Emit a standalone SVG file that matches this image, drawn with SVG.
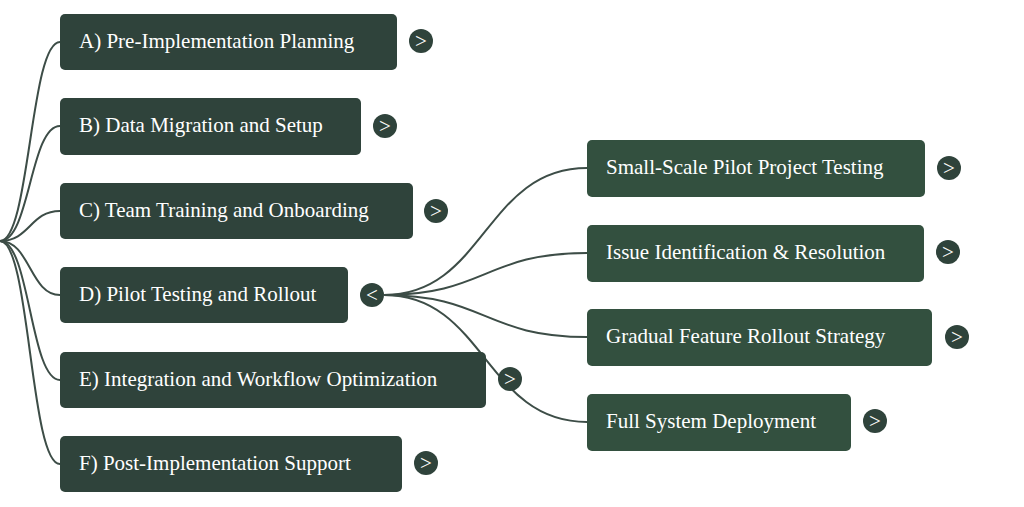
<svg xmlns="http://www.w3.org/2000/svg" width="1024" height="507" viewBox="0 0 1024 507">
<style>
.n{fill:#2f433b}.m{fill:#33503f}.c{fill:#2f433b}
text{font-family:"Liberation Serif",serif;font-size:21px;fill:#fff}
.t{font-size:21px;text-anchor:middle}
.e{fill:none;stroke:#3d4d47;stroke-width:2}
</style>
<rect width="1024" height="507" fill="#fff"/>
<g id="connectors" class="e">
<path d="M0,241 C30,241 30,42 60,42"/>
<path d="M0,241 C30,241 30,126 60,126"/>
<path d="M0,241 C30,241 30,211 60,211"/>
<path d="M0,241 C30,241 30,295 60,295"/>
<path d="M0,241 C30,241 30,380 60,380"/>
<path d="M0,241 C30,241 30,464 60,464"/>
<path d="M384,295 C485,295 485,168 587,168"/>
<path d="M384,295 C485,295 485,253 587,253"/>
<path d="M384,295 C485,295 485,337 587,337"/>
<path d="M384,295 C485,295 485,422 587,422"/>
</g>
<g id="A"><rect class="n" x="60" y="14" width="337" height="56" rx="5"/><text x="79" y="48">A) Pre-Implementation Planning</text><circle class="c" cx="421" cy="41" r="12"/><text class="t" x="421" y="48">&gt;</text></g>
<g id="B"><rect class="n" x="60" y="98" width="301" height="57" rx="5"/><text x="79" y="132">B) Data Migration and Setup</text><circle class="c" cx="385" cy="126" r="12"/><text class="t" x="385" y="133">&gt;</text></g>
<g id="C"><rect class="n" x="60" y="183" width="353" height="56" rx="5"/><text x="79" y="217">C) Team Training and Onboarding</text><circle class="c" cx="436" cy="211" r="12"/><text class="t" x="436" y="218">&gt;</text></g>
<g id="D"><rect class="n" x="60" y="267" width="288" height="56" rx="5"/><text x="79" y="301">D) Pilot Testing and Rollout</text><circle class="c" cx="372" cy="295" r="12"/><text class="t" x="372" y="302">&lt;</text></g>
<g id="E"><rect class="n" x="60" y="352" width="426" height="56" rx="5"/><text x="79" y="386">E) Integration and Workflow Optimization</text><circle class="c" cx="510" cy="379" r="12"/><text class="t" x="510" y="386">&gt;</text></g>
<g id="F"><rect class="n" x="60" y="436" width="342" height="56" rx="5"/><text x="79" y="470">F) Post-Implementation Support</text><circle class="c" cx="426" cy="463" r="12"/><text class="t" x="426" y="470">&gt;</text></g>
<g id="D1"><rect class="m" x="587" y="140" width="338" height="57" rx="5"/><text x="606" y="174">Small-Scale Pilot Project Testing</text><circle class="c" cx="949" cy="168" r="12"/><text class="t" x="949" y="175">&gt;</text></g>
<g id="D2"><rect class="m" x="587" y="225" width="337" height="57" rx="5"/><text x="606" y="259">Issue Identification &amp; Resolution</text><circle class="c" cx="948" cy="252" r="12"/><text class="t" x="948" y="259">&gt;</text></g>
<g id="D3"><rect class="m" x="587" y="309" width="345" height="57" rx="5"/><text x="606" y="343">Gradual Feature Rollout Strategy</text><circle class="c" cx="957" cy="337" r="12"/><text class="t" x="957" y="344">&gt;</text></g>
<g id="D4"><rect class="m" x="587" y="394" width="264" height="57" rx="5"/><text x="606" y="428">Full System Deployment</text><circle class="c" cx="875" cy="421" r="12"/><text class="t" x="875" y="428">&gt;</text></g>
</svg>
